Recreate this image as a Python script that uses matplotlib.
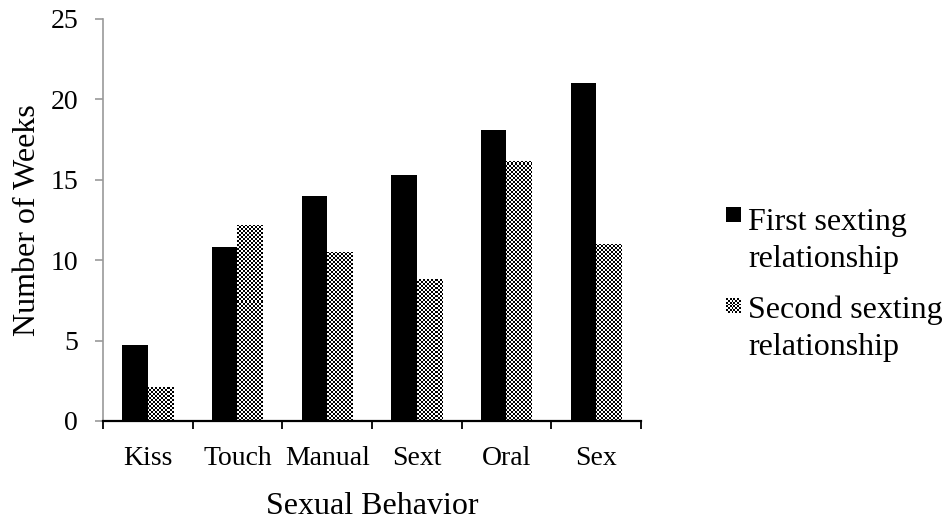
import numpy as np
import matplotlib.pyplot as plt

plt.rcParams['font.family'] = 'Liberation Serif'

# dati
categorie = ['Kiss', 'Touch', 'Manual', 'Sext', 'Oral', 'Sex']
primo = [4.7, 10.8, 14.0, 15.3, 18.1, 21.0]
secondo = [2.1, 12.2, 10.5, 8.8, 16.2, 11.0]
serie = ['First sexting\nrelationship', 'Second sexting\nrelationship']

W, H = 948, 521
fig = plt.figure(figsize=(W / 100, H / 100), dpi=100)
ax = fig.add_axes([103 / W, 100 / H, 538 / W, 402 / H])

# scacchiera per la seconda serie (celle da 2 px)
scacchi = (np.indices((201, 269)).sum(axis=0) % 2).astype(float)

x = np.arange(len(categorie))
w = 0.285
ax.bar(x - w/2, primo, w, color='black')
barre2 = ax.bar(x + w/2, secondo, w, color='white', linewidth=0)
for b in barre2:
    im = ax.imshow(scacchi, cmap='gray', extent=(-0.5, len(categorie) - 0.5, 0, 25),
                   aspect='auto', interpolation='none', zorder=2)
    im.set_clip_path(b)

ax.set_xlim(-0.5, len(categorie) - 0.5)
ax.set_ylim(0, 25)
ax.set_yticks(np.arange(0, 26, 5))

# tick dell'asse x ai bordi delle categorie
ax.set_xticks(np.arange(-0.5, len(categorie)))
ax.set_xticklabels([])
ax.set_xticks(x, minor=True)
ax.set_xticklabels(categorie, minor=True)
ax.tick_params(axis='x', which='major', length=6, width=1.3, color='black', direction='out')
ax.tick_params(axis='x', which='minor', length=0, labelsize=20, pad=18)
ax.tick_params(axis='y', length=6, width=1.2, color='#999999', labelsize=20, pad=12)

for s in ['top', 'right']:
    ax.spines[s].set_visible(False)
ax.spines['left'].set_color('#999999')
ax.spines['left'].set_linewidth(1.2)
ax.spines['bottom'].set_color('black')
ax.spines['bottom'].set_linewidth(1.6)
ax.spines['bottom'].set_zorder(5)

ax.set_xlabel('Sexual Behavior', fontsize=23, labelpad=15)
ax.set_ylabel('Number of Weeks', fontsize=23, labelpad=6)

# legenda a mano: quadratino allineato alla prima riga
for i, lab in enumerate(serie):
    y0 = 207 + i * 91
    m = fig.add_axes([726 / W, 1 - (y0 + 15) / H, 15 / W, 15 / H])
    m.set_xticks([])
    m.set_yticks([])
    for s in m.spines.values():
        s.set_visible(False)
    if i == 0:
        m.set_facecolor('black')
    else:
        m.imshow(scacchi[:8, :8], cmap='gray', aspect='auto', interpolation='nearest')
    for j, riga in enumerate(lab.split('\n')):
        fig.text(748 / W, 1 - (230 + i * 88 + j * 37) / H, riga, fontsize=23,
                 va='baseline', ha='left')

fig.savefig('out.png', dpi=100)
